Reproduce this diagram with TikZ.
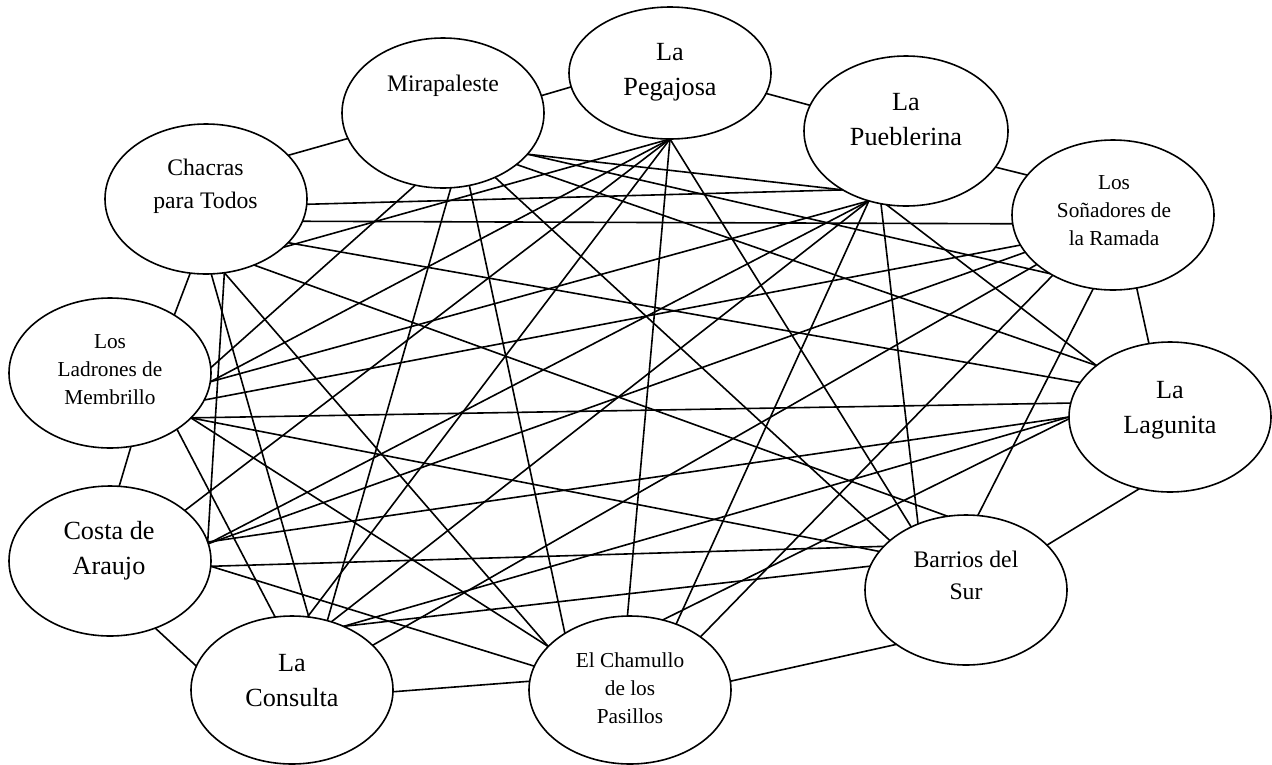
\documentclass[tikz,border=0pt]{standalone}
\usepackage{fontspec}
\setmainfont{Liberation Serif}
\usetikzlibrary{shapes.geometric}
\newcommand{\fS}{\fontsize{21.3}{28}\selectfont}
\newcommand{\fM}{\fontsize{23.7}{33}\selectfont}
\newcommand{\fMb}{\fontsize{23.7}{32.5}\selectfont}
\newcommand{\fL}{\fontsize{26.2}{35}\selectfont}
\newcommand{\mylines}[1]{\begin{tabular}[t]{@{}c@{}}#1\end{tabular}}
\begin{document}
\begin{tikzpicture}[x=1pt,y=-1pt,
  ell/.style={draw, ellipse, line width=1.6pt, inner sep=0pt, outer sep=0pt},
  lbl/.style={anchor=base, inner sep=0pt},
  edge/.style={line width=1.6pt}]
\fill[white] (0,0) rectangle (1272,764);
\useasboundingbox (0,0) rectangle (1272,764);

% ellipses
\node[ell, minimum width=202pt, minimum height=150pt] (chac) at (206,199) {};
\node[ell, minimum width=202pt, minimum height=150pt] (mira) at (443,113) {};
\node[ell, minimum width=202pt, minimum height=132pt] (pega) at (670,73) {};
\node[ell, minimum width=204pt, minimum height=150pt] (pueb) at (906,131) {};
\node[ell, minimum width=202pt, minimum height=150pt] (sona) at (1113,215) {};
\node[ell, minimum width=202pt, minimum height=150pt] (lagu) at (1170,417) {};
\node[ell, minimum width=202pt, minimum height=150pt] (barr) at (966,590) {};
\node[ell, minimum width=202pt, minimum height=148pt] (cham) at (630,690) {};
\node[ell, minimum width=202pt, minimum height=148pt] (cons) at (292,690) {};
\node[ell, minimum width=202pt, minimum height=150pt] (cost) at (110,561) {};
\node[ell, minimum width=202pt, minimum height=150pt] (ladr) at (110,373) {};

% labels
\node[lbl, font=\fM] (chacT) at (205.5,175) {\mylines{Chacras\\para Todos}};
\node[lbl, font=\fM] (miraT) at (443,91) {\mylines{Mirapaleste}};
\node[lbl, font=\fL] (pegaT) at (670,60) {\mylines{La\\Pegajosa}};
\node[lbl, font=\fL] (puebT) at (906,110) {\mylines{La\\Pueblerina}};
\node[lbl, font=\fS] (sonaT) at (1114,189) {\mylines{Los\\Soñadores de\\la Ramada}};
\node[lbl, font=\fL] (laguT) at (1170,398) {\mylines{La\\Lagunita}};
\node[lbl, font=\fMb] (barrT) at (966,567) {\mylines{Barrios del\\Sur}};
\node[lbl, font=\fS] (chamT) at (630,667) {\mylines{El Chamullo\\de los\\Pasillos}};
\node[lbl, font=\fL] (consT) at (292,671) {\mylines{La\\Consulta}};
\node[lbl, font=\fL] (costT) at (109,539) {\mylines{Costa de\\Araujo}};
\node[lbl, font=\fS] (ladrT) at (110,348) {\mylines{Los\\Ladrones de\\Membrillo}};

% ring connectors
\draw[edge] (chac.28) -- (mira.195);
\draw[edge] (mira.10) -- (pega.188);
\draw[edge] (pega.-12) -- (pueb.165);
\draw[edge] (pueb.-22.5) -- (sona.155.5);
\draw[edge] (sona.-72.3) -- (lagu.106.3);
\draw[edge] (lagu.-113.5) -- (barr.29);
\draw[edge] (barr.-142.6) -- (cham.5.1);
\draw[edge] (cham.175) -- (cons.-1.7);
\draw[edge] (cons.166) -- (cost.-56.1);
\draw[edge] (cost.83.2) -- (ladr.-74.5);
\draw[edge] (ladr.42) -- (chac.258.8);

% Chacras para Todos
\draw[edge] (chac.-32.5) -- (pega.-90);
\draw[edge] (chac.-3.9) -- (pueb.-137.9);
\draw[edge] (chac.-13.9) -- (sona.185.1);
\draw[edge] (chac.-28.2) -- (lagu.159.7);
\draw[edge] (chac.-54.5) -- (barr.104.2);
\draw[edge] (chac.-76.7) -- (cham.152.2);
\draw[edge] (chac.-86.2) -- (cons.77.6);
\draw[edge] (chac.-76.7) -- (cost.11.4);

% Mirapaleste
\draw[edge] (mira.-26.8) -- (pueb.-137.9);
\draw[edge] (mira.-26.8) -- (sona.-137.7);
\draw[edge] (mira.-35.8) -- (lagu.145.8);
\draw[edge] (mira.-51.9) -- (barr.147.2);
\draw[edge] (mira.-70.2) -- (cham.139.5);
\draw[edge] (mira.-84.7) -- (cons.63.1);
\draw[edge] (mira.-111.8) -- (ladr.3.4);

% La Pegajosa
\draw[edge] (pega.-90) -- (ladr.-5.7);
\draw[edge] (pega.-90) -- (cost.34.7);
\draw[edge] (pega.-90) -- (cons.78.4);
\draw[edge] (pega.-90) -- (cham.92.3);
\draw[edge] (pega.-90) -- (barr.131.4);

% La Pueblerina
\draw[edge] (pueb.-118.1) -- (ladr.-5.7);
\draw[edge] (pueb.-118.1) -- (cost.10);
\draw[edge] (pueb.-118.1) -- (cons.60.6);
\draw[edge] (pueb.-118.1) -- (cham.55.9);
\draw[edge] (pueb.-109.8) -- (barr.126.2);
\draw[edge] (pueb.-105.8) -- (lagu.145.8);

% Los Sonadores de la Ramada
\draw[edge] (sona.-162.7) -- (ladr.-16);
\draw[edge] (sona.-157.7) -- (cost.10);
\draw[edge] (sona.-147.4) -- (cons.29);
\draw[edge] (sona.-135.8) -- (cham.37.1);
\draw[edge] (sona.-105.6) -- (barr.81.1);

% La Lagunita
\draw[edge] (lagu.172.2) -- (ladr.-29.1);
\draw[edge] (lagu.180.5) -- (cost.11.9);
\draw[edge] (lagu.180.5) -- (cons.51.9);
\draw[edge] (lagu.181.7) -- (cham.65.7);

% Barrios del Sur
\draw[edge] (barr.156.9) -- (ladr.-29.1);
\draw[edge] (barr.152.9) -- (cost.-3.4);
\draw[edge] (barr.166.6) -- (cons.51.9);

% Los Ladrones de Membrillo
\draw[edge] (ladr.-29.1) -- (cham.152.1);
\draw[edge] (ladr.-40) -- (cons.103.1);

% Costa de Araujo
\draw[edge] (cost.-3.4) -- (cham.166);
\end{tikzpicture}
\end{document}
